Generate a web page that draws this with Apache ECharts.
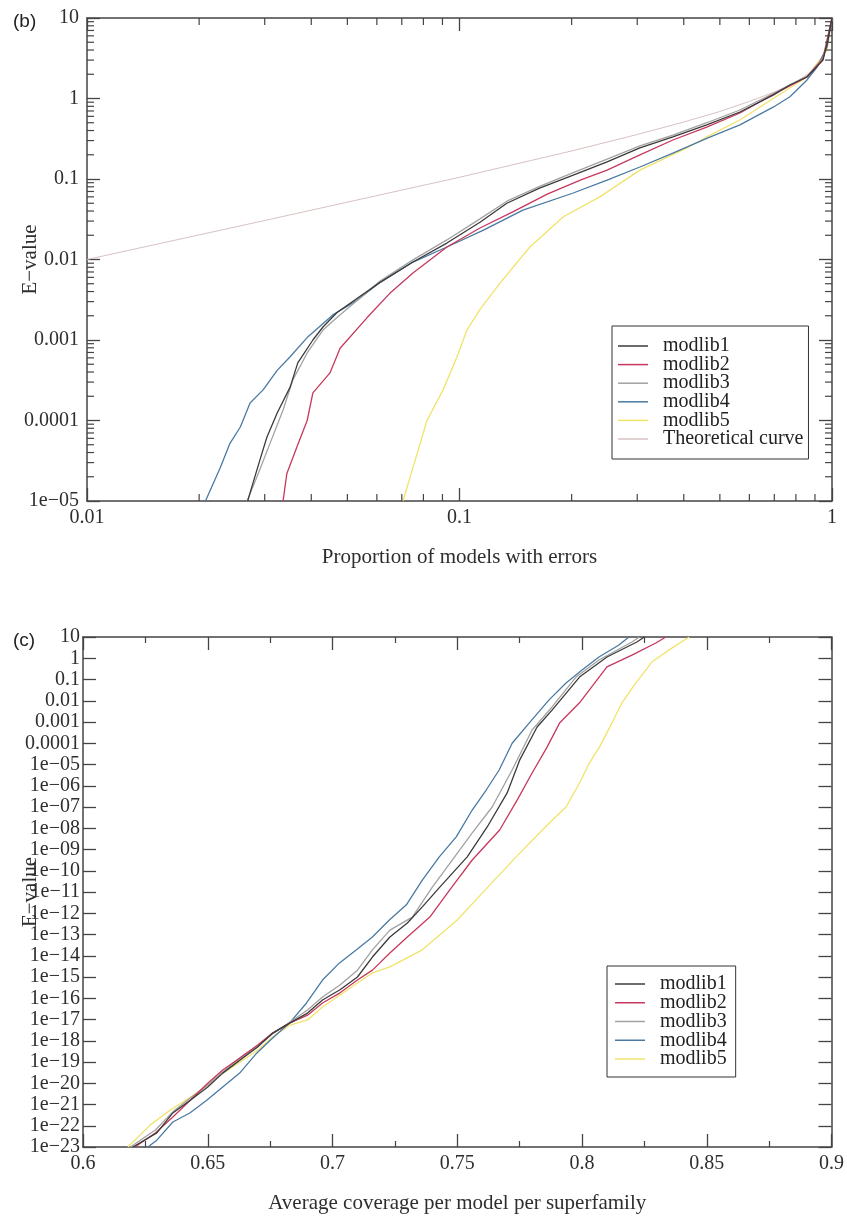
<!DOCTYPE html>
<html>
<head>
<meta charset="utf-8">
<script src="https://cdn.jsdelivr.net/npm/echarts@6/dist/echarts.min.js"></script>
<style>
  html, body { margin: 0; padding: 0; background: #fff; }
  #chart { width: 847px; height: 1216px; }
</style>
</head>
<body>
<div id="chart"></div>
<script>
// ---- panel (b): E-value vs proportion of models with errors ----
var bModlib1 = [[0.0270,1e-5],[0.0277,1.5e-5],[0.0291,3.2e-5],[0.0304,6.2e-5],[0.0324,1.24e-4],[0.0351,2.6e-4],[0.0368,5.2e-4],[0.0404,1e-3],[0.0430,1.45e-3],[0.0469,2.2e-3],[0.0612,5.2e-3],[0.075,9.3e-3],[0.0925,0.016],[0.1135,0.029],[0.134,0.050],[0.164,0.077],[0.202,0.112],[0.249,0.163],[0.305,0.243],[0.374,0.333],[0.461,0.47],[0.566,0.68],[0.695,1.1],[0.771,1.47],[0.857,1.85],[0.946,3.0],[0.975,5.3],[1.0,10]];
var bModlib2 = [[0.0336,1e-5],[0.0344,2.2e-5],[0.0366,4.7e-5],[0.039,1e-4],[0.0404,2.2e-4],[0.0449,3.9e-4],[0.0478,7.9e-4],[0.0565,1.9e-3],[0.065,3.8e-3],[0.075,6.8e-3],[0.0925,0.0143],[0.1135,0.0246],[0.139,0.039],[0.172,0.065],[0.211,0.097],[0.249,0.129],[0.305,0.199],[0.374,0.305],[0.461,0.44],[0.566,0.66],[0.695,1.12],[0.857,1.85],[0.946,3.1],[1.0,10]];
var bModlib3 = [[0.0269,1e-5],[0.0286,2e-5],[0.031,5.2e-5],[0.0336,1.35e-4],[0.0357,3.2e-4],[0.039,6.9e-4],[0.043,1.33e-3],[0.0469,1.9e-3],[0.0612,5.4e-3],[0.075,9.9e-3],[0.0925,0.0175],[0.1135,0.032],[0.134,0.053],[0.164,0.081],[0.202,0.12],[0.249,0.177],[0.305,0.258],[0.374,0.35],[0.461,0.5],[0.566,0.72],[0.695,1.15],[0.857,1.9],[0.946,3.2],[1.0,10]];
var bModlib4 = [[0.0208,1e-5],[0.0228,2.6e-5],[0.0242,5.2e-5],[0.0258,8.3e-5],[0.0274,1.65e-4],[0.0297,2.4e-4],[0.0324,4.2e-4],[0.0351,6.2e-4],[0.0392,1.1e-3],[0.0457,2.05e-3],[0.053,3.1e-3],[0.0612,5.2e-3],[0.075,9.3e-3],[0.0925,0.0143],[0.1156,0.023],[0.148,0.041],[0.202,0.067],[0.249,0.097],[0.305,0.141],[0.374,0.21],[0.461,0.32],[0.566,0.47],[0.695,0.78],[0.771,1.05],[0.857,1.7],[0.912,2.46],[0.97,4.4],[1.0,10]];
var bModlib5 = [[0.0705,1e-5],[0.075,2.6e-5],[0.0818,1e-4],[0.0903,2.4e-4],[0.0985,6.2e-4],[0.1047,1.33e-3],[0.1135,2.4e-3],[0.1285,5.1e-3],[0.1545,0.0143],[0.19,0.034],[0.238,0.06],[0.305,0.129],[0.408,0.243],[0.461,0.333],[0.566,0.54],[0.695,1.0],[0.857,1.85],[0.97,4.0],[1.0,10]];
var bTheory = [[0.01,0.01],[0.03,0.0305],[0.1,0.105],[0.2,0.223],[0.3,0.357],[0.4,0.51],[0.5,0.69],[0.6,0.92],[0.7,1.2],[0.8,1.6],[0.9,2.3]];
var bXLabels = ['0.01', '0.1', '1'];
var bYLabels = ['1e\u221205', '0.0001', '0.001', '0.01', '0.1', '1', '10'];

// ---- panel (c): E-value vs average coverage ----
var cModlib1 = [[0.620,1e-23],[0.6296,4.6e-23],[0.636,4e-22],[0.643,1.6e-21],[0.650,6.6e-21],[0.656,3e-20],[0.663,1.26e-19],[0.670,5.1e-19],[0.676,2.3e-18],[0.683,6.9e-18],[0.690,2e-17],[0.696,8.3e-17],[0.703,2.5e-16],[0.710,1e-15],[0.716,8.7e-15],[0.723,7.6e-14],[0.730,3.5e-13],[0.736,2e-12],[0.743,1.7e-11],[0.754,4.5e-10],[0.762,1.15e-8],[0.770,4.6e-7],[0.775,1.6e-5],[0.782,5.8e-4],[0.788,3.6e-3],[0.799,0.13],[0.810,1.15],[0.822,5.8],[0.825,10]];
var cModlib2 = [[0.6208,1e-23],[0.629,4.6e-23],[0.636,2.6e-22],[0.643,1.6e-21],[0.650,1e-20],[0.656,4.2e-20],[0.663,1.6e-19],[0.670,6.3e-19],[0.676,2.3e-18],[0.683,6.9e-18],[0.690,1.6e-17],[0.696,6e-17],[0.703,1.8e-16],[0.710,7.2e-16],[0.716,2.1e-15],[0.723,1.35e-14],[0.730,7.6e-14],[0.739,6.6e-13],[0.747,1.26e-11],[0.756,3.2e-10],[0.767,8.3e-9],[0.774,2.1e-7],[0.780,4e-6],[0.786,6.6e-5],[0.791,8.9e-4],[0.799,8e-3],[0.810,0.39],[0.820,1.4],[0.8296,5.2],[0.8336,10]];
var cModlib3 = [[0.619,1e-23],[0.629,6.3e-23],[0.636,4.5e-22],[0.643,2e-21],[0.650,8.3e-21],[0.656,3.4e-20],[0.663,1.6e-19],[0.670,5.6e-19],[0.676,2.1e-18],[0.683,7.6e-18],[0.690,2.8e-17],[0.696,1.15e-16],[0.703,4.2e-16],[0.710,2.1e-15],[0.716,1.9e-14],[0.723,1.6e-13],[0.732,6.6e-13],[0.740,1.7e-11],[0.748,3.2e-10],[0.756,6e-9],[0.764,1e-7],[0.772,5.5e-6],[0.780,4.2e-4],[0.788,5.1e-3],[0.7976,0.13],[0.8068,0.83],[0.820,5.8],[0.823,10]];
var cModlib4 = [[0.626,1e-23],[0.6296,2.1e-23],[0.636,1.5e-22],[0.6428,4e-22],[0.6496,1.6e-21],[0.656,6.6e-21],[0.6628,3e-20],[0.6696,2.6e-19],[0.676,1.35e-18],[0.6828,6.9e-18],[0.6896,6e-17],[0.696,7.2e-16],[0.7028,4.6e-15],[0.7096,1.9e-14],[0.716,7.6e-14],[0.7228,4.8e-13],[0.7296,2.5e-12],[0.736,3.6e-11],[0.7428,4.5e-10],[0.7496,3.9e-9],[0.756,7.2e-8],[0.7616,6.3e-7],[0.7668,5.5e-6],[0.772,1e-4],[0.7788,8.9e-4],[0.7868,0.011],[0.7936,0.069],[0.800,0.28],[0.8068,1.15],[0.8148,4.2],[0.8188,10]];
var cModlib5 = [[0.618,1e-23],[0.627,1.1e-22],[0.635,5.5e-22],[0.643,2.2e-21],[0.650,8.3e-21],[0.656,3e-20],[0.663,1e-19],[0.670,3.6e-19],[0.676,1.5e-18],[0.683,5.5e-18],[0.690,9.5e-18],[0.696,3.9e-17],[0.710,5.2e-16],[0.716,1.55e-15],[0.723,3e-15],[0.736,1.9e-14],[0.750,4.8e-13],[0.760,8.9e-12],[0.7736,4.5e-10],[0.787,1.8e-8],[0.7936,1e-7],[0.799,1.35e-6],[0.803,1.2e-5],[0.807,6.6e-5],[0.812,8.9e-4],[0.816,8e-3],[0.8216,0.069],[0.828,0.66],[0.836,3],[0.843,10]];
var cXLabels = ['0.6', '0.65', '0.7', '0.75', '0.8', '0.85', '0.9'];
var cYLabels = ['1e\u221223','1e\u221222','1e\u221221','1e\u221220','1e\u221219','1e\u221218','1e\u221217','1e\u221216','1e\u221215','1e\u221214','1e\u221213','1e\u221212','1e\u221211','1e\u221210','1e\u221209','1e\u221208','1e\u221207','1e\u221206','1e\u221205','0.0001','0.001','0.01','0.1','1','10'];

var names = ['modlib1', 'modlib2', 'modlib3', 'modlib4', 'modlib5'];
var colors = ['#3b3b3b', '#c8385c', '#a2a2a2', '#4a7aa3', '#f1e36a'];
var theoryColor = '#d8c2c2';

var serif = 'Liberation Serif';
var axisColor = '#444';
var labelColor = '#2e2e2e';

// minor tick positions on the log axes of panel (b)
var bMinorX = [], bMinorY = [];
[0.01, 0.1].forEach(function (d) {
  for (var k = 2; k <= 9; k++) bMinorX.push([+(d * k).toPrecision(3), 1e-5]);
});
[1e-5, 1e-4, 1e-3, 1e-2, 1e-1, 1].forEach(function (d) {
  for (var k = 2; k <= 9; k++) bMinorY.push([0.01, +(d * k).toPrecision(3)]);
});

function minorTickItem(dir) {
  return function (params, api) {
    var cs = params.coordSys;
    var p = api.coord([api.value(0), api.value(1)]);
    var L = 7;
    var st = { stroke: axisColor, lineWidth: 1.2 };
    var a, b;
    if (dir === 'x') {
      a = { x1: p[0], y1: cs.y + cs.height, x2: p[0], y2: cs.y + cs.height - L };
      b = { x1: p[0], y1: cs.y, x2: p[0], y2: cs.y + L };
    } else {
      a = { x1: cs.x, y1: p[1], x2: cs.x + L, y2: p[1] };
      b = { x1: cs.x + cs.width, y1: p[1], x2: cs.x + cs.width - L, y2: p[1] };
    }
    return { type: 'group', children: [
      { type: 'line', shape: a, style: st },
      { type: 'line', shape: b, style: st }
    ] };
  };
}

function axisBase(extra) {
  var o = {
    axisLine: { show: true, onZero: false, lineStyle: { color: axisColor, width: 1.5 } },
    axisTick: { show: true, inside: true, length: 13, lineStyle: { color: axisColor, width: 1.3 } },
    splitLine: { show: false },
    nameMoveOverlap: false,
    axisLabel: { color: labelColor, fontFamily: serif, fontSize: 20 }
  };
  for (var k in extra) o[k] = extra[k];
  return o;
}

var series = [];
[bModlib1, bModlib2, bModlib3, bModlib4, bModlib5].forEach(function (d, i) {
  series.push({ name: names[i], type: 'line', xAxisIndex: 0, yAxisIndex: 0, data: d,
    symbol: 'none', lineStyle: { color: colors[i], width: 1.3 }, itemStyle: { color: colors[i] },
    z: 5 - i + 2, animation: false });
});
series.push({ name: 'Theoretical curve', type: 'line', xAxisIndex: 0, yAxisIndex: 0, data: bTheory,
  symbol: 'none', lineStyle: { color: theoryColor, width: 1 }, itemStyle: { color: theoryColor },
  z: 1, animation: false });
[cModlib1, cModlib2, cModlib3, cModlib4, cModlib5].forEach(function (d, i) {
  series.push({ name: names[i], type: 'line', xAxisIndex: 2, yAxisIndex: 2,
    data: d.map(function (p) { return [p[0], Math.log10(p[1])]; }),
    symbol: 'none', lineStyle: { color: colors[i], width: 1.3 }, itemStyle: { color: colors[i] },
    z: 5 - i + 2, animation: false });
});
series.push({ type: 'custom', xAxisIndex: 0, yAxisIndex: 0, data: bMinorX,
  renderItem: minorTickItem('x'), silent: true, animation: false, z: 10 });
series.push({ type: 'custom', xAxisIndex: 0, yAxisIndex: 0, data: bMinorY,
  renderItem: minorTickItem('y'), silent: true, animation: false, z: 10 });

function legendText(lh) {
  return { fontFamily: serif, fontSize: 20, color: '#222', lineHeight: lh, padding: [0, 0, 0, 10] };
}
var nameStyle = { fontFamily: serif, fontSize: 21, color: labelColor };

var option = {
  backgroundColor: '#fff',
  animation: false,
  title: [
    { text: '(b)', left: 8, top: 7, textStyle: { fontFamily: 'Liberation Sans', fontSize: 19, fontWeight: 'normal', color: '#222' } },
    { text: '(c)', left: 8, top: 626, textStyle: { fontFamily: 'Liberation Sans', fontSize: 19, fontWeight: 'normal', color: '#222' } }
  ],
  grid: [
    { left: 87, top: 18, width: 745, height: 483 },
    { left: 83, top: 637, width: 750, height: 510 }
  ],
  legend: [
    { data: names.concat(['Theoretical curve']), orient: 'vertical', left: 612, top: 326,
      icon: 'rect', itemWidth: 30, itemHeight: 1.5, itemGap: -1.4,
      padding: [10, 5, 10, 6],
      borderColor: '#333', borderWidth: 1, textStyle: legendText(18.6), selectedMode: false },
    { data: names, orient: 'vertical', left: 607, top: 966,
      icon: 'rect', itemWidth: 30, itemHeight: 1.5, itemGap: -1.25,
      padding: [8, 9, 8, 8],
      borderColor: '#333', borderWidth: 1, textStyle: legendText(18.75), selectedMode: false }
  ],
  xAxis: [
    axisBase({ type: 'log', logBase: 10, gridIndex: 0, min: 0.01, max: 1, position: 'bottom',
      name: 'Proportion of models with errors', nameLocation: 'middle', nameGap: 45.5,
      nameTextStyle: nameStyle,
      axisLabel: { color: labelColor, fontFamily: serif, fontSize: 20, margin: 7,
        formatter: function (v) { return bXLabels[Math.round(Math.log10(v)) + 2]; } } }),
    axisBase({ type: 'log', logBase: 10, gridIndex: 0, min: 0.01, max: 1, position: 'top',
      axisLabel: { show: false } }),
    axisBase({ type: 'value', gridIndex: 1, min: 0.6, max: 0.9, interval: 0.05, position: 'bottom',
      name: 'Average coverage per model per superfamily', nameLocation: 'middle', nameGap: 45.5,
      nameTextStyle: nameStyle,
      minorTick: { show: true, splitNumber: 2, length: 6, lineStyle: { color: axisColor, width: 1.2 } },
      axisLabel: { color: labelColor, fontFamily: serif, fontSize: 20, margin: 7,
        formatter: function (v) { return cXLabels[Math.round((v - 0.6) / 0.05)]; } } }),
    axisBase({ type: 'value', gridIndex: 1, min: 0.6, max: 0.9, interval: 0.05, position: 'top',
      minorTick: { show: true, splitNumber: 2, length: 6, lineStyle: { color: axisColor, width: 1.2 } },
      axisLabel: { show: false } })
  ],
  yAxis: [
    axisBase({ type: 'log', logBase: 10, gridIndex: 0, min: 1e-5, max: 10, position: 'left',
      name: 'E\u2212value', nameLocation: 'middle', nameGap: 46.5, nameRotate: 90,
      nameTextStyle: nameStyle,
      axisLabel: { color: labelColor, fontFamily: serif, fontSize: 20, margin: 8,
        formatter: function (v) { return bYLabels[Math.round(Math.log10(v)) + 5]; } } }),
    axisBase({ type: 'log', logBase: 10, gridIndex: 0, min: 1e-5, max: 10, position: 'right',
      axisLabel: { show: false } }),
    axisBase({ type: 'value', gridIndex: 1, min: -23, max: 1, interval: 1, position: 'left',
      name: 'E\u2212value', nameLocation: 'middle', nameGap: 42.5, nameRotate: 90,
      nameTextStyle: nameStyle,
      axisLabel: { color: labelColor, fontFamily: serif, fontSize: 20, margin: 3,
        formatter: function (v) { return cYLabels[Math.round(v) + 23]; } } }),
    axisBase({ type: 'value', gridIndex: 1, min: -23, max: 1, interval: 1, position: 'right',
      axisLabel: { show: false } })
  ],
  series: series
};

var chart = echarts.init(document.getElementById('chart'));
chart.setOption(option);
</script>
</body>
</html>
